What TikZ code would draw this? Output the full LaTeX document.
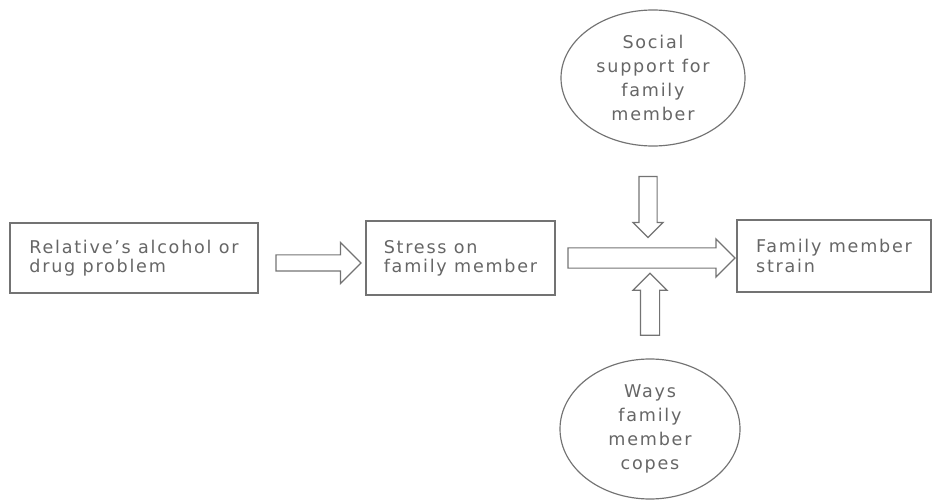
\documentclass[tikz,border=0pt]{standalone}
\usepackage{fontspec}
\setmainfont{DejaVu Sans}[LetterSpace=10]
\usetikzlibrary{shapes.geometric,shapes.arrows}

\begin{document}
\begin{tikzpicture}[
        factor/.style={shape=rectangle, draw=black!55, line width=1pt, align=left, text=black!60, font=\fontsize{15}{16.5}\selectfont},
        moderator/.style={shape=ellipse, draw=black!55, line width=1pt, align=center, text=black!60, inner sep=0pt, font=\fontsize{15}{20.5}\selectfont},
        blockarrow/.style={single arrow, draw=black!55, line width=1pt, single arrow head indent=0pt}]

    \useasboundingbox (0,0) rectangle (27.96,15);

        % main chain
        \node[factor, minimum width=7.44cm, minimum height=2.1cm] (relative) at (4.02,7.26) {Relative's alcohol or\\drug problem};
        \node[factor, minimum width=5.67cm, minimum height=2.22cm] (stress) at (13.815,7.26) {Stress on\\family member};
        \node[factor, minimum width=5.82cm, minimum height=2.16cm] (strain) at (25.02,7.32) {Family member\\strain};

        % moderators
        \node[moderator, minimum width=5.52cm, minimum height=4.08cm] (support) at (19.59,12.66) {Social\\support for\\family\\member};
        \node[moderator, minimum width=5.4cm, minimum height=4.2cm] (copes) at (19.5,2.13) {Ways\\family\\member\\copes};

        % block arrows
        \node[blockarrow, minimum height=2.55cm, inner sep=0.225cm, single arrow head extend=0.375cm] (arrowA) at (9.435,7.11) {};
        \node[blockarrow, minimum height=5.01cm, inner sep=0.285cm, single arrow head extend=0.27cm] (arrowB) at (19.395,7.26) {};
        \node[blockarrow, rotate=-90, minimum height=1.83cm, inner sep=0.255cm, single arrow head extend=0.18cm] (arrowS) at (19.44,8.925) {};
        \node[blockarrow, rotate=90, minimum height=1.86cm, inner sep=0.27cm, single arrow head extend=0.225cm] (arrowW) at (19.5,5.73) {};

    \end{tikzpicture}
\end{document}
